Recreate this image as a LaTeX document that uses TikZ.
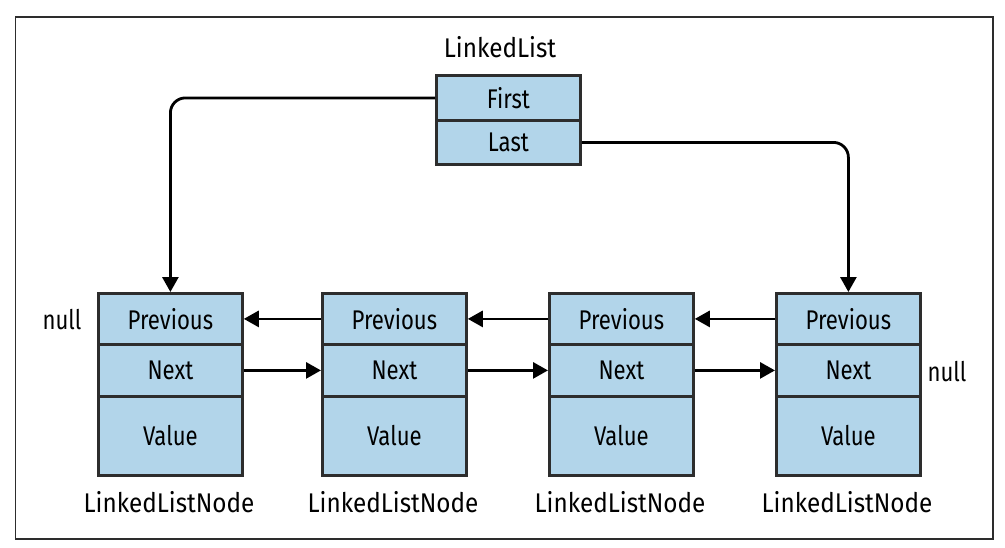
\documentclass[tikz,border=0pt]{standalone}
\usepackage{fontspec}
\setmainfont[FakeStretch=0.82]{Fira Sans}
\usetikzlibrary{arrows.meta}
\definecolor{cellblue}{RGB}{178,213,234}
\definecolor{celledge}{RGB}{45,45,45}
\begin{document}
\begin{tikzpicture}[x=1pt,y=-1pt,
  cell/.style={draw=celledge, fill=cellblue, line width=2.8pt, minimum width=144pt, anchor=north west, inner sep=0pt, font=\fontsize{27}{30}\selectfont},
  lbl/.style={font=\fontsize{27}{30}\selectfont, inner sep=0pt},
  wlbl/.style={font=\fontsize{27}{30}\selectfont\addfontfeature{FakeStretch=0.9}, inner sep=0pt},
  arr/.style={line width=2.8pt, -{Triangle[length=15pt,width=16pt]}}]
\useasboundingbox (0,0) rectangle (1005,547);
\draw[line width=1.2pt, celledge] (15.5,17) rectangle (993,539);
% LinkedList
\node[wlbl] (ll) at (500,47) {LinkedList};
\node[cell, minimum height=45pt] (first) at (435,74) {First};
\node[cell, minimum height=44pt] (last) at (435,119) {Last};
% list nodes
\foreach \i/\x in {1/97,2/321,3/548,4/775}{
  \node[cell, minimum height=51pt] (p\i) at (\x,292) {Previous\hspace{10pt}};
  \node[cell, minimum height=52pt] (n\i) at (\x,343) {Next\hspace{6pt}};
  \node[cell, minimum height=79pt] (v\i) at (\x,395) {Value\hspace{6pt}};
  \node[wlbl] (t\i) at (\x+72,502) {LinkedListNode};
}
\node[lbl] (null1) at (62,320) {null};
\node[lbl] (null2) at (947,372) {null};
% connectors
\draw[arr, rounded corners=15pt] (first.west) -| (p1.north);
\draw[arr, rounded corners=15pt] (last.east) -| (p4.north);
\draw[arr] (p2.west) -- (p1.east);
\draw[arr] (p3.west) -- (p2.east);
\draw[arr] (p4.west) -- (p3.east);
\draw[arr] (n1.east) -- (n2.west);
\draw[arr] (n2.east) -- (n3.west);
\draw[arr] (n3.east) -- (n4.west);
\end{tikzpicture}
\end{document}
